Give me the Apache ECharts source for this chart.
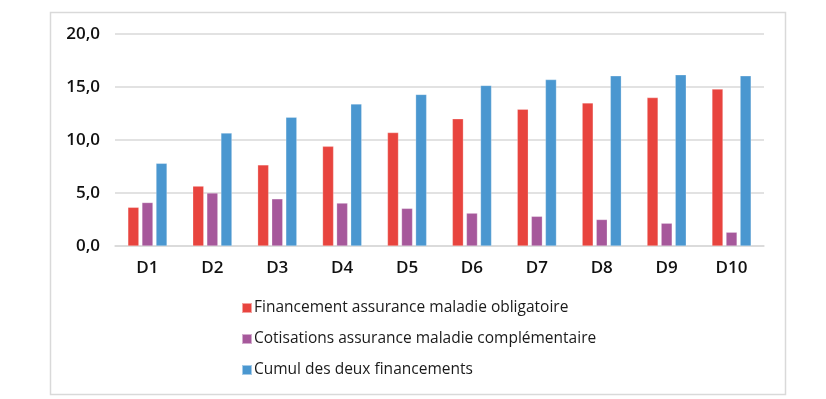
<!DOCTYPE html>
<html>
<head>
<meta charset="utf-8">
<script src="https://cdn.jsdelivr.net/npm/echarts@6/dist/echarts.min.js"></script>
<style>
  html, body { margin: 0; padding: 0; background: #fff; }
  #chart { width: 826px; height: 399px; }
</style>
</head>
<body>
<div id="chart"></div>
<script>
const categories = ['D1', 'D2', 'D3', 'D4', 'D5', 'D6', 'D7', 'D8', 'D9', 'D10']
const seriesNames = [
  'Financement assurance maladie obligatoire',
  'Cotisations assurance maladie complémentaire',
  'Cumul des deux financements'
]
const obligatoire = [3.65, 5.65, 7.65, 9.4, 10.7, 12.0, 12.9, 13.5, 14.0, 14.8]
const complementaire = [4.1, 5.0, 4.45, 4.05, 3.55, 3.1, 2.8, 2.5, 2.15, 1.3]
const cumul = [7.8, 10.65, 12.15, 13.4, 14.3, 15.15, 15.7, 16.05, 16.15, 16.05]
const yTicks = [0, 5, 10, 15, 20]

const colors = ['#E8443E', '#A6589B', '#4A97D0']
const font = '"Open Sans", "Noto Sans", sans-serif'

const chart = echarts.init(document.getElementById('chart'))

function bar(name, data, color) {
  return {
    name: name,
    type: 'bar',
    data: data,
    barWidth: 11,
    barGap: '28%',
    itemStyle: { color: color, borderColor: 'rgba(255,255,255,0.5)', borderWidth: 0.5 }
  }
}

chart.setOption({
  backgroundColor: '#ffffff',
  animation: false,
  textStyle: { fontFamily: font },
  graphic: [{
    type: 'rect',
    shape: { x: 50.5, y: 12.5, width: 735, height: 382 },
    style: { fill: 'none', stroke: '#d9d9d9', lineWidth: 1.5 },
    silent: true
  }],
  legend: {
    data: seriesNames,
    orient: 'vertical',
    left: 236,
    top: 295,
    itemGap: 15,
    itemWidth: 10,
    itemHeight: 10,
    icon: 'rect',
    textStyle: { fontSize: 15.5, color: '#1a1a1a', fontFamily: font, lineHeight: 16, padding: [0, 0, 0, -3] }
  },
  grid: {
    left: 115,
    right: 62,
    top: 34,
    height: 212
  },
  xAxis: {
    type: 'category',
    data: categories,
    axisLine: { lineStyle: { color: '#d9d9d9', width: 1.5 } },
    axisTick: { show: false },
    axisLabel: { fontSize: 17, fontWeight: 600, color: '#111', margin: 14, fontFamily: font }
  },
  yAxis: {
    type: 'value',
    min: yTicks[0],
    max: yTicks[yTicks.length - 1],
    interval: yTicks[1] - yTicks[0],
    axisLine: { show: false },
    axisTick: { show: false },
    splitLine: { lineStyle: { color: '#d9d9d9', width: 1.5 } },
    axisLabel: {
      fontSize: 17,
      fontWeight: 600,
      color: '#111',
      margin: 15,
      fontFamily: font,
      formatter: v => v.toFixed(1).replace('.', ',')
    }
  },
  series: [
    bar(seriesNames[0], obligatoire, colors[0]),
    bar(seriesNames[1], complementaire, colors[1]),
    bar(seriesNames[2], cumul, colors[2])
  ]
})
</script>
</body>
</html>
